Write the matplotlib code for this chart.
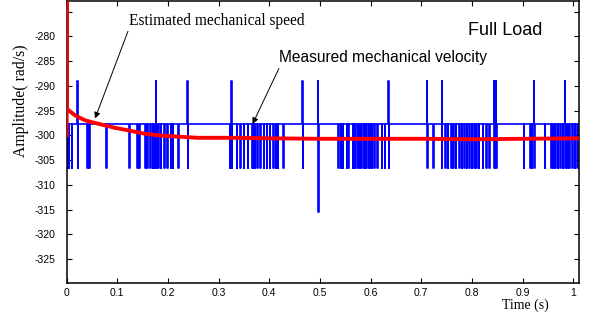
import numpy as np
import matplotlib
matplotlib.use("Agg")
import matplotlib.pyplot as plt

# measured speed: quantised encoder levels (rad/s)
base_level = -297.8
low_level = -306.7
high_level = -289.0
deep_level = -315.5

# times (s) where the measured speed drops one count
dip_times = [0.002, 0.0045, 0.010, 0.041, 0.045, 0.078, 0.124, 0.139, 0.143,
             0.155, 0.159, 0.165, 0.170, 0.174, 0.181, 0.186, 0.193, 0.199,
             0.205, 0.209, 0.220, 0.322, 0.336, 0.343, 0.350, 0.358, 0.366,
             0.368, 0.371, 0.376, 0.382, 0.389, 0.395, 0.401, 0.408, 0.413,
             0.417, 0.428, 0.536, 0.541, 0.545, 0.553, 0.556, 0.565, 0.569,
             0.574, 0.578, 0.582, 0.587, 0.591, 0.595, 0.599, 0.602, 0.607,
             0.613, 0.622, 0.628, 0.724, 0.747, 0.752, 0.759, 0.763, 0.768,
             0.775, 0.780, 0.785, 0.790, 0.795, 0.800, 0.805, 0.809, 0.814,
             0.821, 0.828, 0.834, 0.902, 0.915, 0.918, 0.944, 0.957, 0.961,
             0.965, 0.970, 0.974, 0.979, 0.988, 0.992, 0.998, 1.003, 1.008]
# times where it jumps one count up, then one down
spike_times = [0.021, 0.176, 0.238, 0.325, 0.465, 0.635, 0.711, 0.740,
               0.843, 0.847, 0.922, 0.983]
# single spike that falls two counts
deep_time = 0.4955

# estimated speed from the observer
est_t = [0.0, 0.0004, 0.0008, 0.017, 0.037, 0.056, 0.076, 0.096, 0.122,
         0.155, 0.193, 0.226, 0.259, 0.292, 0.332, 0.40, 0.50, 0.60, 0.70,
         0.80, 0.90, 1.011]
est_v = [-300.0, -260.0, -294.7, -296.0, -297.0, -297.5, -298.0, -298.5,
         -299.0, -299.7, -300.1, -300.3, -300.5, -300.5, -300.5, -300.6,
         -300.7, -300.7, -300.7, -300.8, -300.7, -300.6]

xticks = [0, 0.1, 0.2, 0.3, 0.4, 0.5, 0.6, 0.7, 0.8, 0.9, 1.0]
xtick_labels = ["0", "0.1", "0.2", "0.3", "0.4", "0.5", "0.6", "0.7", "0.8", "0.9", "1"]
yticks = [-325, -320, -315, -310, -305, -300, -295, -290, -285, -280, -275]


def build_measured(width=0.0009):
    events = [(t, [low_level]) for t in dip_times]
    events += [(t, [high_level, low_level]) for t in spike_times]
    events.append((deep_time, [high_level, deep_level]))
    events.sort(key=lambda e: e[0])

    xs, ys = [0.0], [base_level]
    for t, levels in events:
        xs.append(t)
        ys.append(base_level)
        for i, lvl in enumerate(levels):
            xs += [t + i * width, t + (i + 1) * width]
            ys += [lvl, lvl]
        xs.append(t + len(levels) * width)
        ys.append(base_level)
    xs.append(1.011)
    ys.append(base_level)
    return np.array(xs), np.array(ys)


sans = "Liberation Sans"
serif = "Liberation Serif"

fig = plt.figure(figsize=(5.9, 3.2), dpi=100)
ax = fig.add_axes([0.113, 0.116, 0.868, 0.882])

mx, my = build_measured()
ax.plot(mx, my, color="#0000ff", lw=1.2, zorder=2)
ax.plot(est_t, est_v, color="#ff0000", lw=2.8, zorder=3)

ax.set_xlim(0, 1.011)
ax.set_ylim(-329.8, -272.8)
ax.set_xticks(xticks)
ax.set_xticklabels(xtick_labels, fontfamily=sans, fontsize=7.5)
ax.set_yticks(yticks)
ax.set_yticklabels([str(v) if v != -275 else "" for v in yticks],
                   fontfamily=sans, fontsize=7.5)
ax.tick_params(direction="in", length=3.5, width=0.8, top=True, right=True)
ax.tick_params(axis="y", pad=8)
ax.tick_params(axis="x", pad=4)
for s in ax.spines.values():
    s.set_linewidth(1.1)

fig.text(21 / 590, 1 - 101 / 320, "Amplitude( rad/s)", fontfamily=serif, fontsize=11.3,
         rotation=90, ha="center", va="center")
fig.text(525 / 590, 1 - 305 / 320, "Time (s)", fontfamily=serif, fontsize=10,
         ha="center", va="center")

ax.text(0.94, -278.9, "Full Load", fontfamily=sans, fontsize=13, ha="right", va="center")

arrow = dict(arrowstyle="-|>", color="black", lw=0.7, mutation_scale=9,
             shrinkA=0, shrinkB=0)
ax.text(0.124, -276.9, "Estimated mechanical speed", fontfamily=serif, fontsize=11.2,
        va="center", ha="left")
ax.annotate("", xy=(0.056, -296.6), xytext=(0.121, -279.0), arrowprops=arrow)
ax.text(0.42, -284.3, "Measured mechanical velocity", fontfamily=sans, fontsize=11.2,
        va="center", ha="left")
ax.annotate("", xy=(0.367, -297.7), xytext=(0.419, -286.5), arrowprops=arrow)

fig.savefig("out.png", dpi=100)
